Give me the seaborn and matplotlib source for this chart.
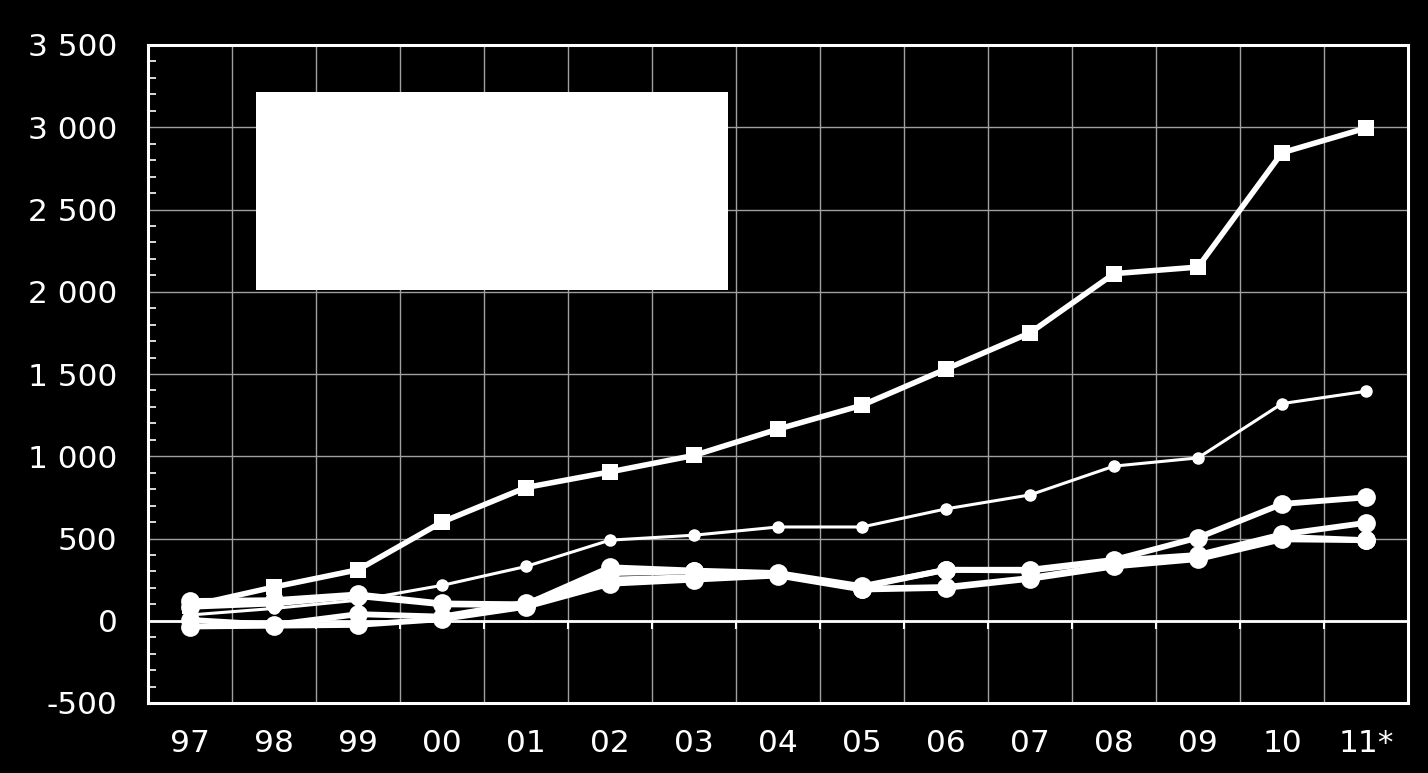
import numpy as np
import pandas as pd
import seaborn as sns
import matplotlib.pyplot as plt
from matplotlib.patches import Rectangle
from matplotlib.ticker import MultipleLocator

years = ["97", "98", "99", "00", "01", "02", "03", "04", "05", "06", "07", "08", "09", "10", "11*"]

squares = [90, 205, 310, 600, 810, 905, 1005, 1165, 1310, 1530, 1750, 2110, 2150, 2845, 2995]
thin = [35, 75, 125, 215, 330, 490, 520, 570, 570, 680, 765, 940, 990, 1320, 1395]
circles_1 = [120, 125, 160, 105, 100, 325, 305, 290, 210, 310, 310, 370, 505, 710, 750]
circles_2 = [5, -25, 40, 25, 110, 250, 265, 280, 195, 205, 260, 340, 385, 510, 490]
circles_3 = [-35, -30, -25, 10, 85, 225, 250, 275, 190, 200, 255, 330, 375, 495, 490]
circles_4 = [85, 105, 150, 100, 95, 290, 300, 285, 205, 310, 305, 365, 400, 525, 595]

y_min, y_max = -500, 3500

sns.set_theme(style="dark")
plt.rcParams["font.family"] = ["DejaVu Sans"]

fig = plt.figure(figsize=(14.28, 7.73), dpi=100, facecolor="black")
ax = fig.add_axes([148 / 1428, 1 - 703 / 773, 1260 / 1428, 658 / 773])
ax.set_facecolor("black")

x_pos = np.arange(len(years))

for vals in [circles_3, circles_2, circles_4, circles_1]:
    sns.lineplot(x=x_pos, y=vals, ax=ax, color="white", linewidth=4.2,
                 marker="o", markersize=13.5, markeredgewidth=0, zorder=3)
sns.lineplot(x=x_pos, y=thin, ax=ax, color="white", linewidth=2.2,
             marker="o", markersize=9, markeredgewidth=0, zorder=3)
sns.lineplot(x=x_pos, y=squares, ax=ax, color="white", linewidth=4,
             marker="s", markersize=11.5, markeredgewidth=0, zorder=4)

ax.set_xlim(-0.5, len(years) - 0.5)
ax.set_ylim(y_min, y_max)

# gridlines sit between categories, labels in the middle
boundaries = np.arange(0.5, len(years) - 0.5, 1)
ax.set_xticks(boundaries)
ax.set_xticklabels([])
ax.set_xticks(x_pos, labels=years, minor=True)
ax.tick_params(axis="x", which="both", length=0)
ax.tick_params(axis="x", which="minor", pad=19, labelsize=22.5, labelcolor="white")

ax.yaxis.set_major_locator(MultipleLocator(500))
ax.yaxis.set_minor_locator(MultipleLocator(100))
ax.yaxis.set_major_formatter(lambda v, p: f"{int(v):,}".replace(",", " "))
ax.tick_params(axis="y", which="major", direction="out", length=8, width=1.5,
               color="white", pad=14, labelsize=22.5, labelcolor="white")
ax.tick_params(axis="y", which="minor", direction="in", length=6, width=1.2,
               color="white", left=True)

ax.grid(True, which="major", color="#a0a0a0", linewidth=1)
ax.grid(False, which="minor")

for side in ["left", "right", "top", "bottom"]:
    ax.spines[side].set_visible(True)
    ax.spines[side].set_color("white")
    ax.spines[side].set_linewidth(2.2)

# category axis crossing at zero
zero_loc = (0 - y_min) / (y_max - y_min)
sec = ax.secondary_xaxis(zero_loc)
sec.set_zorder(2.5)
sec.set_xticks(boundaries)
sec.set_xticklabels([])
sec.tick_params(direction="out", length=6, width=1.5, color="white")
sec.spines["bottom"].set_color("white")
sec.spines["bottom"].set_linewidth(2)

# blank legend box
ax.add_patch(Rectangle((108 / 1260, 413 / 658), 472 / 1260, 198 / 658,
                       transform=ax.transAxes, facecolor="white", edgecolor="none", zorder=5))

ax.set_xlabel("")
ax.set_ylabel("")

fig.savefig("out.png", dpi=100, facecolor="black")
